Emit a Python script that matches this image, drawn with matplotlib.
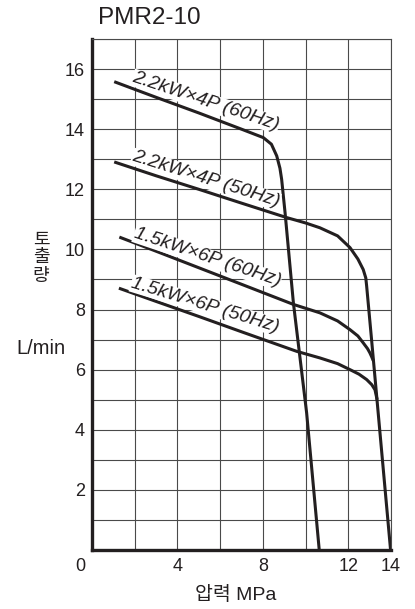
import matplotlib
matplotlib.use("Agg")
import matplotlib.pyplot as plt
import matplotlib.transforms as mtransforms

plt.rcParams['font.family'] = ['Liberation Sans', 'Noto Sans CJK KR', 'DejaVu Sans']

title = "PMR2-10"
xlabel = "압력 MPa"
ylabel_kr = ["토", "출", "량"]
ylabel_unit = "L/min"

# pressure (MPa) / flow (L/min) points
p_22_60 = [1.04, 3.0, 5.0, 7.0, 8.02, 8.40, 8.65, 8.80, 8.88, 9.04, 9.43, 10.05, 10.64]
q_22_60 = [15.58, 15.06, 14.54, 14.0, 13.72, 13.50, 13.11, 12.70, 12.33, 11.22, 8.22, 4.56, 0.0]

p_22_50 = [1.04, 3.0, 5.0, 7.0, 9.11, 10.0, 10.67, 11.50, 12.08, 12.45, 12.70, 12.82, 12.86, 13.09, 13.33, 13.98]
q_22_50 = [12.91, 12.45, 12.0, 11.54, 11.06, 10.88, 10.72, 10.45, 10.06, 9.68, 9.33, 9.05, 8.78, 7.0, 5.11, 0.0]

p_15_60 = [1.28, 3.0, 5.0, 7.0, 9.43, 10.67, 11.50, 12.08, 12.45, 12.70, 12.90, 13.01, 13.10, 13.17]
q_15_60 = [10.41, 9.94, 9.39, 8.84, 8.17, 7.89, 7.62, 7.33, 7.12, 6.89, 6.70, 6.56, 6.42, 6.30]

p_15_50 = [1.26, 3.0, 5.0, 7.0, 9.58, 10.67, 11.50, 12.08, 12.50, 12.86, 13.10, 13.25, 13.35]
q_15_50 = [8.71, 8.27, 7.77, 7.26, 6.61, 6.39, 6.20, 6.0, 5.85, 5.67, 5.50, 5.33, 5.00]

curves = [(p_22_60, q_22_60), (p_22_50, q_22_50), (p_15_60, q_15_60), (p_15_50, q_15_50)]

labels = ["2.2kW×4P (60Hz)", "2.2kW×4P (50Hz)", "1.5kW×6P (60Hz)", "1.5kW×6P (50Hz)"]
label_x = [5.32, 5.32, 5.40, 5.29]
label_y = [14.92, 12.33, 9.72, 8.14]
label_rot = [-18.5, -17.5, -18.5, -17.0]

xticks = [0, 4, 8, 12, 14]
yticks = [2, 4, 6, 8, 10, 12, 14, 16]

fig = plt.figure(figsize=(4.15, 6.09), dpi=100)
W, H = 415, 609
ax_l, ax_r, ax_t, ax_b = 92, 391, 39, 550
ax = fig.add_axes([ax_l / W, (H - ax_b) / H, (ax_r - ax_l) / W, (ax_b - ax_t) / H])
ax.set_xlim(0, 14)
ax.set_ylim(0, 17)

grid_c = '#4a4a4a'
for gx in range(0, 15, 2):
    ax.axvline(gx, color=grid_c, lw=0.8, zorder=1)
for gy in range(0, 18):
    ax.axhline(gy, color=grid_c, lw=0.8, zorder=1)

for p, q in curves:
    ax.plot(p, q, color='#231f20', lw=2.2, solid_capstyle='butt', solid_joinstyle='round', zorder=3)

for t, x, y, r in zip(labels, label_x, label_y, label_rot):
    ax.text(x, y, t, rotation=r, rotation_mode='anchor', ha='center', va='center',
            fontsize=14, style='italic', color='#231f20', zorder=4,
            bbox=dict(facecolor='white', edgecolor='none', pad=0.3))

for s in ['top', 'right']:
    ax.spines[s].set_linewidth(0.8)
    ax.spines[s].set_color(grid_c)
for s in ['left', 'bottom']:
    ax.spines[s].set_linewidth(2.4)
    ax.spines[s].set_color('#231f20')

ax.set_xticks(xticks)
ax.set_xticklabels([str(v) for v in xticks])
ax.set_yticks(yticks)
ax.set_yticklabels([str(v) for v in yticks])
ax.tick_params(length=0, labelsize=13, colors='#231f20')
ax.tick_params(axis='x', pad=6)
ax.tick_params(axis='y', pad=5)
# shift the "0" label slightly to the left like in the reference
lbl0 = ax.get_xticklabels()[0]
lbl0.set_transform(lbl0.get_transform() + mtransforms.ScaledTranslation(-12 / 100, 0, fig.dpi_scale_trans))

fig.text(98 / W, 1 - 17.5 / H, title, ha='left', va='center', fontsize=17.5, color='#231f20')
fig.text(236 / W, 1 - 595 / H, xlabel, ha='center', va='center', fontsize=14, color='#231f20')
for i, ch in enumerate(ylabel_kr):
    fig.text(41 / W, 1 - (240 + 18 * i) / H, ch, ha='center', va='center', fontsize=13,
             color='#231f20')
fig.text(41 / W, 1 - 348 / H, ylabel_unit, ha='center', va='center', fontsize=14.5, color='#231f20')

fig.savefig("out.png", dpi=100)
